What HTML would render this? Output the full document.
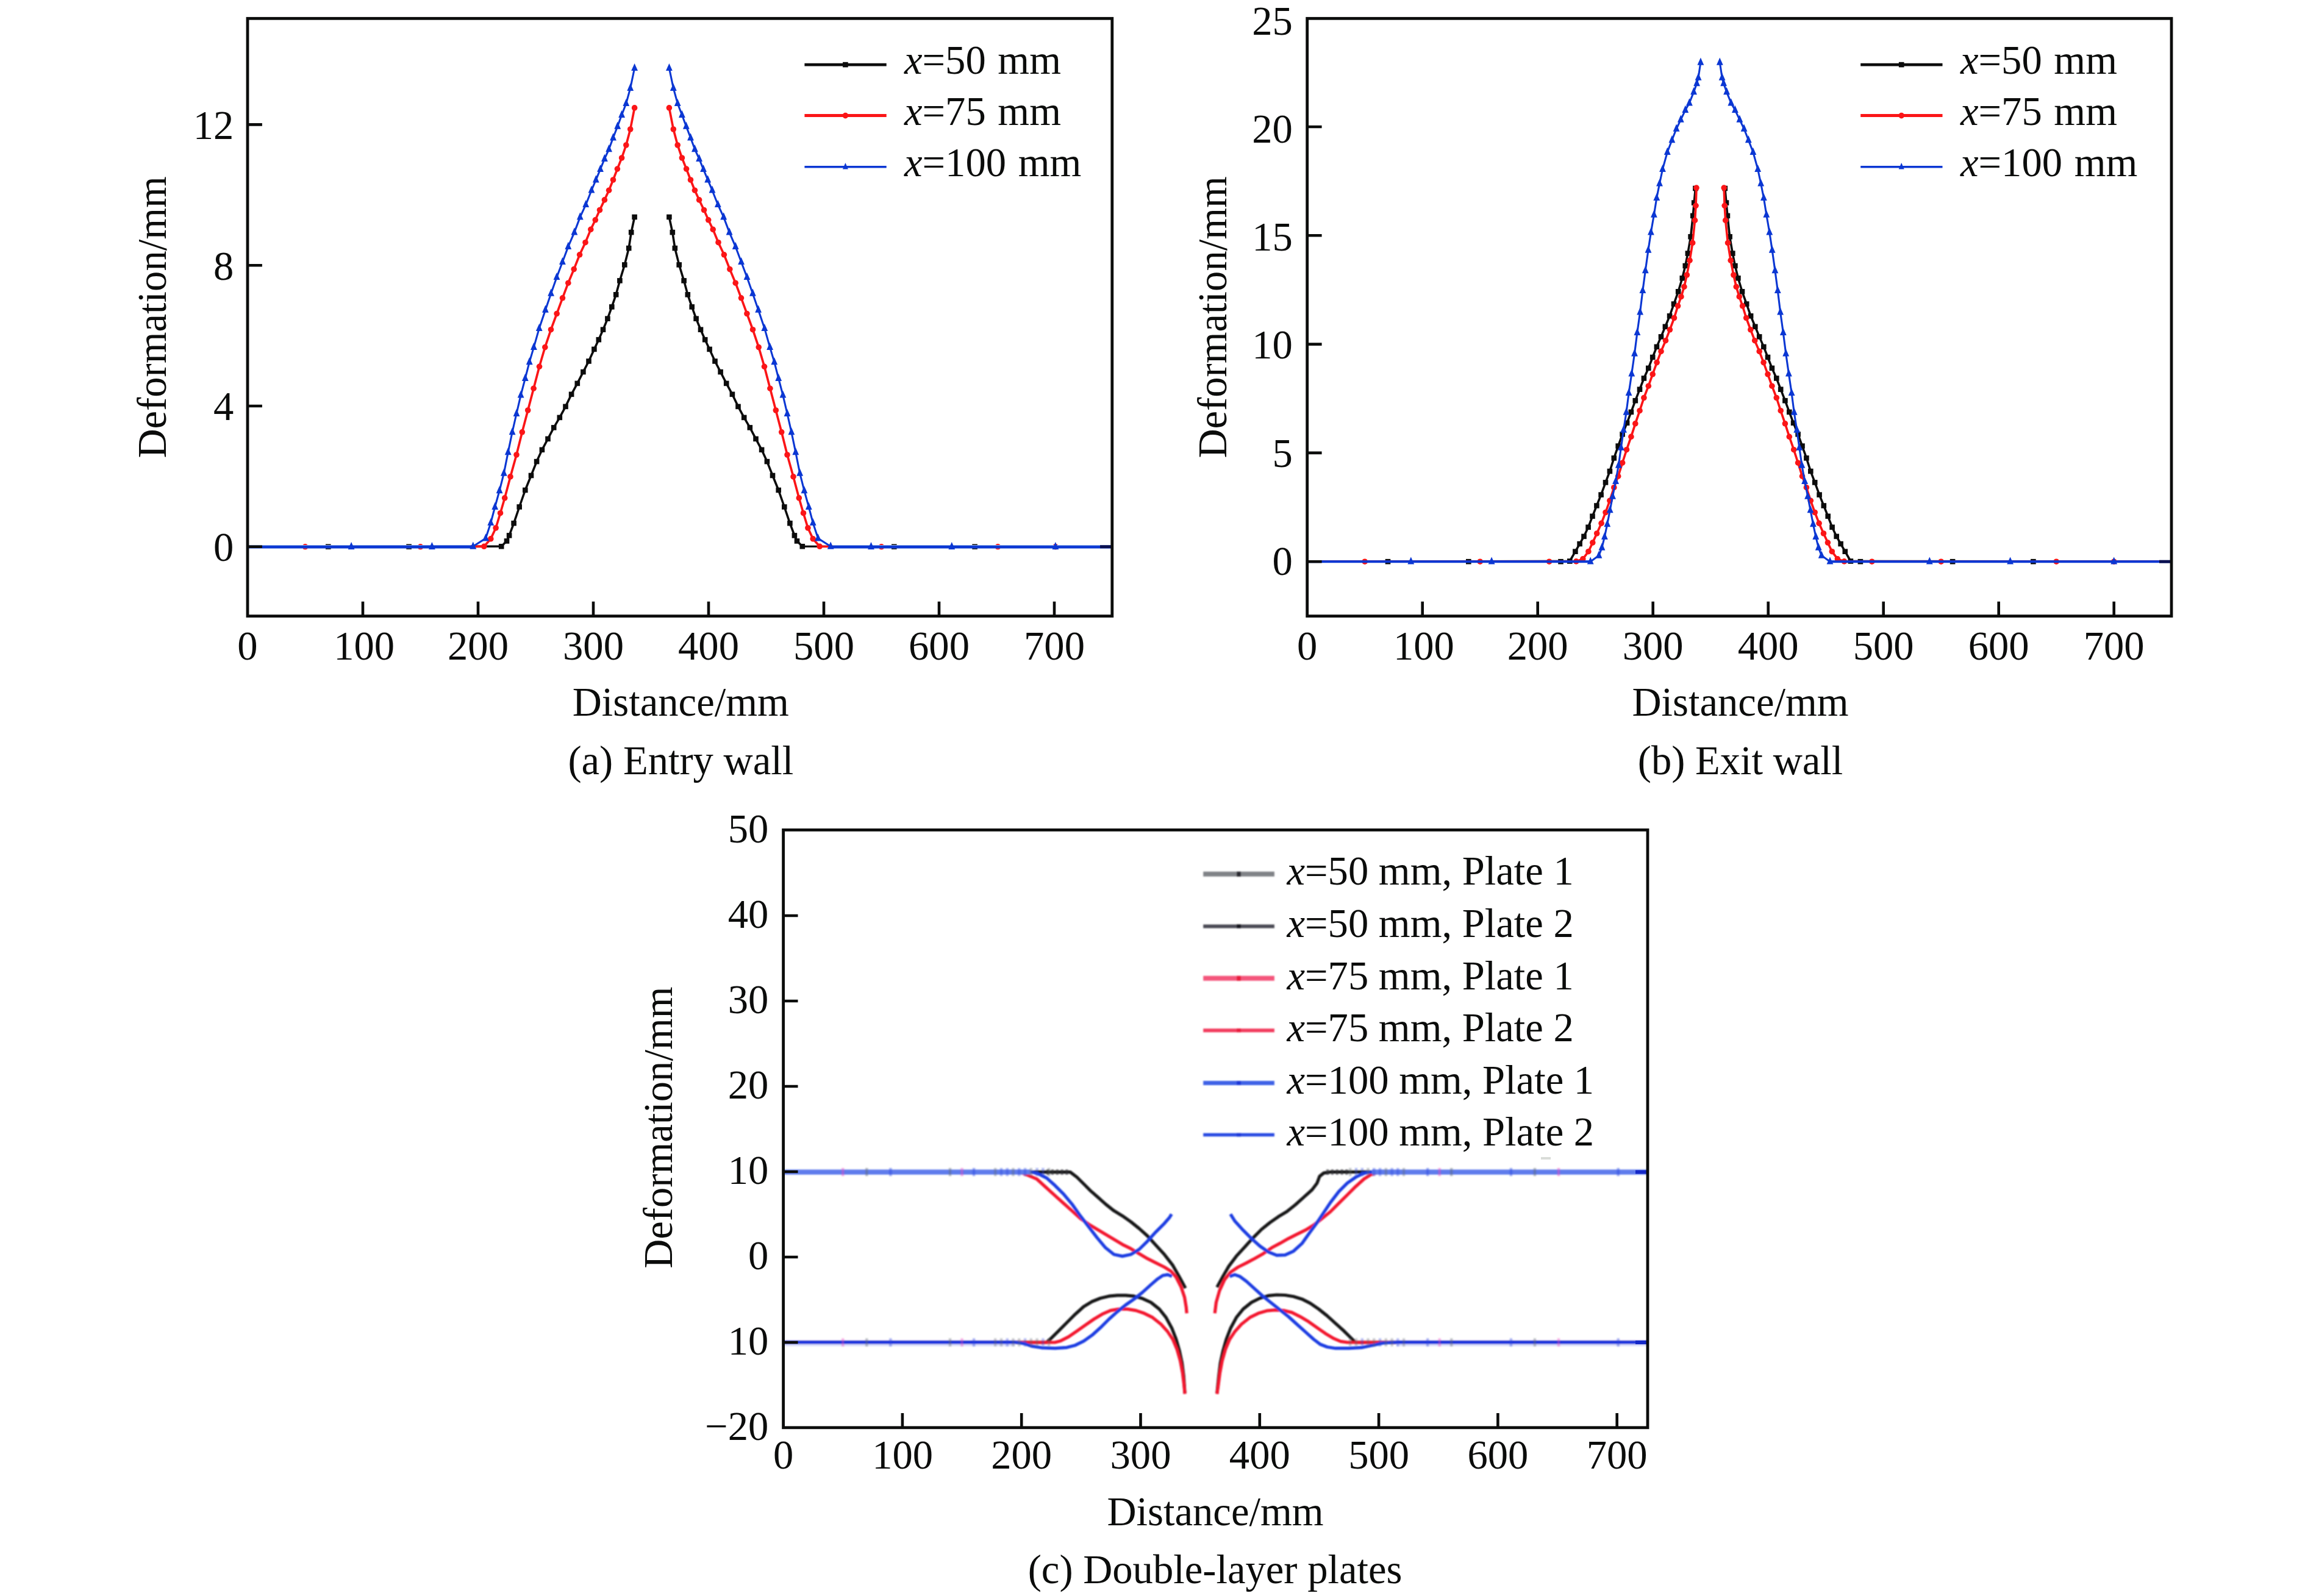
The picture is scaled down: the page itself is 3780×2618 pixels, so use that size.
<!DOCTYPE html>
<html><head><meta charset="utf-8"><title>Deformation curves</title>
<style>html,body{margin:0;padding:0;background:#fff}svg{display:block}text{font-family:"Liberation Serif",serif;font-size:66.6px;fill:#0b0c0b}</style>
</head><body>
<svg width="3780" height="2618" viewBox="0 0 3780 2618">
<rect width="3780" height="2618" fill="#fff"/>
<g id="pa">
<g stroke="#0c0c0c" stroke-width="3.6" fill="none" stroke-linejoin="round"><polyline points="406,896.8 822.2,896.3 831,887.5 835.1,878.4 842.6,858.3 851.7,831.5 861.3,804 871,780 880.1,757.1 888.9,737.8 898.5,719.9 908.2,701.4 917.8,684.9 927.5,666.9 937.1,646.8 946.8,628.9 956.4,610.1 965.5,592.5 974.4,572.9 981.8,557.2 989,540.7 996.4,522.7 1003.3,503.4 1010.2,483.3 1016.4,460.4 1024.3,434.4 1031.2,407.1 1035.2,381.1 1040.6,356"/><polyline points="1097.4,356 1102.8,381.1 1106.8,407.1 1113.7,434.4 1121.6,460.4 1127.8,483.3 1134.7,503.4 1141.6,522.7 1149,540.7 1156.2,557.2 1163.6,572.9 1172.5,592.5 1181.6,610.1 1191.2,628.9 1200.9,646.8 1210.5,666.9 1220.2,684.9 1229.8,701.4 1239.5,719.9 1249.1,737.8 1257.9,757.1 1267,780 1276.7,804 1286.3,831.5 1295.4,858.3 1302.9,878.4 1307,887.5 1315.8,896.3 1823.8,896.8"/></g>
<rect x="817.9" y="892" width="8.6" height="8.6" fill="#0c0c0c"/><rect x="826.7" y="883.2" width="8.6" height="8.6" fill="#0c0c0c"/><rect x="830.8" y="874.1" width="8.6" height="8.6" fill="#0c0c0c"/><rect x="838.3" y="854" width="8.6" height="8.6" fill="#0c0c0c"/><rect x="847.4" y="827.2" width="8.6" height="8.6" fill="#0c0c0c"/><rect x="857" y="799.7" width="8.6" height="8.6" fill="#0c0c0c"/><rect x="866.7" y="775.7" width="8.6" height="8.6" fill="#0c0c0c"/><rect x="875.8" y="752.8" width="8.6" height="8.6" fill="#0c0c0c"/><rect x="884.6" y="733.5" width="8.6" height="8.6" fill="#0c0c0c"/><rect x="894.2" y="715.6" width="8.6" height="8.6" fill="#0c0c0c"/><rect x="903.9" y="697.1" width="8.6" height="8.6" fill="#0c0c0c"/><rect x="913.5" y="680.6" width="8.6" height="8.6" fill="#0c0c0c"/><rect x="923.2" y="662.6" width="8.6" height="8.6" fill="#0c0c0c"/><rect x="932.8" y="642.5" width="8.6" height="8.6" fill="#0c0c0c"/><rect x="942.5" y="624.6" width="8.6" height="8.6" fill="#0c0c0c"/><rect x="952.1" y="605.8" width="8.6" height="8.6" fill="#0c0c0c"/><rect x="961.2" y="588.2" width="8.6" height="8.6" fill="#0c0c0c"/><rect x="970.1" y="568.6" width="8.6" height="8.6" fill="#0c0c0c"/><rect x="977.5" y="552.9" width="8.6" height="8.6" fill="#0c0c0c"/><rect x="984.7" y="536.4" width="8.6" height="8.6" fill="#0c0c0c"/><rect x="992.1" y="518.4" width="8.6" height="8.6" fill="#0c0c0c"/><rect x="999" y="499.1" width="8.6" height="8.6" fill="#0c0c0c"/><rect x="1005.9" y="479" width="8.6" height="8.6" fill="#0c0c0c"/><rect x="1012.1" y="456.1" width="8.6" height="8.6" fill="#0c0c0c"/><rect x="1020" y="430.1" width="8.6" height="8.6" fill="#0c0c0c"/><rect x="1026.9" y="402.8" width="8.6" height="8.6" fill="#0c0c0c"/><rect x="1030.9" y="376.8" width="8.6" height="8.6" fill="#0c0c0c"/><rect x="1036.3" y="351.7" width="8.6" height="8.6" fill="#0c0c0c"/><rect x="1093.1" y="351.7" width="8.6" height="8.6" fill="#0c0c0c"/><rect x="1098.5" y="376.8" width="8.6" height="8.6" fill="#0c0c0c"/><rect x="1102.5" y="402.8" width="8.6" height="8.6" fill="#0c0c0c"/><rect x="1109.4" y="430.1" width="8.6" height="8.6" fill="#0c0c0c"/><rect x="1117.3" y="456.1" width="8.6" height="8.6" fill="#0c0c0c"/><rect x="1123.5" y="479" width="8.6" height="8.6" fill="#0c0c0c"/><rect x="1130.4" y="499.1" width="8.6" height="8.6" fill="#0c0c0c"/><rect x="1137.3" y="518.4" width="8.6" height="8.6" fill="#0c0c0c"/><rect x="1144.7" y="536.4" width="8.6" height="8.6" fill="#0c0c0c"/><rect x="1151.9" y="552.9" width="8.6" height="8.6" fill="#0c0c0c"/><rect x="1159.3" y="568.6" width="8.6" height="8.6" fill="#0c0c0c"/><rect x="1168.2" y="588.2" width="8.6" height="8.6" fill="#0c0c0c"/><rect x="1177.3" y="605.8" width="8.6" height="8.6" fill="#0c0c0c"/><rect x="1186.9" y="624.6" width="8.6" height="8.6" fill="#0c0c0c"/><rect x="1196.6" y="642.5" width="8.6" height="8.6" fill="#0c0c0c"/><rect x="1206.2" y="662.6" width="8.6" height="8.6" fill="#0c0c0c"/><rect x="1215.9" y="680.6" width="8.6" height="8.6" fill="#0c0c0c"/><rect x="1225.5" y="697.1" width="8.6" height="8.6" fill="#0c0c0c"/><rect x="1235.2" y="715.6" width="8.6" height="8.6" fill="#0c0c0c"/><rect x="1244.8" y="733.5" width="8.6" height="8.6" fill="#0c0c0c"/><rect x="1253.6" y="752.8" width="8.6" height="8.6" fill="#0c0c0c"/><rect x="1262.7" y="775.7" width="8.6" height="8.6" fill="#0c0c0c"/><rect x="1272.4" y="799.7" width="8.6" height="8.6" fill="#0c0c0c"/><rect x="1282" y="827.2" width="8.6" height="8.6" fill="#0c0c0c"/><rect x="1291.1" y="854" width="8.6" height="8.6" fill="#0c0c0c"/><rect x="1298.6" y="874.1" width="8.6" height="8.6" fill="#0c0c0c"/><rect x="1302.7" y="883.2" width="8.6" height="8.6" fill="#0c0c0c"/><rect x="1311.5" y="892" width="8.6" height="8.6" fill="#0c0c0c"/><rect x="534" y="892.5" width="8.6" height="8.6" fill="#0c0c0c"/><rect x="666.3" y="892.5" width="8.6" height="8.6" fill="#0c0c0c"/><rect x="1462" y="892.5" width="8.6" height="8.6" fill="#0c0c0c"/><rect x="1594.3" y="892.5" width="8.6" height="8.6" fill="#0c0c0c"/>
<g stroke="#fb1517" stroke-width="3.7" fill="none" stroke-linejoin="round"><polyline points="406,896.8 793.8,896.3 804.8,883.9 813.1,866 820.5,841.7 827.7,816.9 837,781.9 847,746 856.3,708.8 865.7,673 875.1,637.2 884.5,601.3 893.8,569.6 903.5,540.7 913.1,514.5 922.5,488.8 931.8,464.2 941.2,441.6 950.6,417.8 960,397.7 968.8,376.4 976.3,360.8 983.5,344.5 991.4,327.9 998.6,312.2 1005.5,295 1012.4,277.1 1019.6,259 1026.8,238 1033.7,212 1040.6,176.9"/><polyline points="1097.4,176.9 1104.3,212 1111.2,238 1118.4,259 1125.6,277.1 1132.5,295 1139.4,312.2 1146.6,327.9 1154.5,344.5 1161.7,360.8 1169.2,376.4 1178,397.7 1187.4,417.8 1196.8,441.6 1206.2,464.2 1215.5,488.8 1224.9,514.5 1234.5,540.7 1244.2,569.6 1253.5,601.3 1262.9,637.2 1272.3,673 1281.7,708.8 1291,746 1301,781.9 1310.3,816.9 1317.5,841.7 1324.9,866 1333.2,883.9 1344.2,896.3 1823.8,896.8"/></g>
<circle cx="793.8" cy="896.3" r="4.8" fill="#fb1517"/><circle cx="804.8" cy="883.9" r="4.8" fill="#fb1517"/><circle cx="813.1" cy="866" r="4.8" fill="#fb1517"/><circle cx="820.5" cy="841.7" r="4.8" fill="#fb1517"/><circle cx="827.7" cy="816.9" r="4.8" fill="#fb1517"/><circle cx="837" cy="781.9" r="4.8" fill="#fb1517"/><circle cx="847" cy="746" r="4.8" fill="#fb1517"/><circle cx="856.3" cy="708.8" r="4.8" fill="#fb1517"/><circle cx="865.7" cy="673" r="4.8" fill="#fb1517"/><circle cx="875.1" cy="637.2" r="4.8" fill="#fb1517"/><circle cx="884.5" cy="601.3" r="4.8" fill="#fb1517"/><circle cx="893.8" cy="569.6" r="4.8" fill="#fb1517"/><circle cx="903.5" cy="540.7" r="4.8" fill="#fb1517"/><circle cx="913.1" cy="514.5" r="4.8" fill="#fb1517"/><circle cx="922.5" cy="488.8" r="4.8" fill="#fb1517"/><circle cx="931.8" cy="464.2" r="4.8" fill="#fb1517"/><circle cx="941.2" cy="441.6" r="4.8" fill="#fb1517"/><circle cx="950.6" cy="417.8" r="4.8" fill="#fb1517"/><circle cx="960" cy="397.7" r="4.8" fill="#fb1517"/><circle cx="968.8" cy="376.4" r="4.8" fill="#fb1517"/><circle cx="976.3" cy="360.8" r="4.8" fill="#fb1517"/><circle cx="983.5" cy="344.5" r="4.8" fill="#fb1517"/><circle cx="991.4" cy="327.9" r="4.8" fill="#fb1517"/><circle cx="998.6" cy="312.2" r="4.8" fill="#fb1517"/><circle cx="1005.5" cy="295" r="4.8" fill="#fb1517"/><circle cx="1012.4" cy="277.1" r="4.8" fill="#fb1517"/><circle cx="1019.6" cy="259" r="4.8" fill="#fb1517"/><circle cx="1026.8" cy="238" r="4.8" fill="#fb1517"/><circle cx="1033.7" cy="212" r="4.8" fill="#fb1517"/><circle cx="1040.6" cy="176.9" r="4.8" fill="#fb1517"/><circle cx="1097.4" cy="176.9" r="4.8" fill="#fb1517"/><circle cx="1104.3" cy="212" r="4.8" fill="#fb1517"/><circle cx="1111.2" cy="238" r="4.8" fill="#fb1517"/><circle cx="1118.4" cy="259" r="4.8" fill="#fb1517"/><circle cx="1125.6" cy="277.1" r="4.8" fill="#fb1517"/><circle cx="1132.5" cy="295" r="4.8" fill="#fb1517"/><circle cx="1139.4" cy="312.2" r="4.8" fill="#fb1517"/><circle cx="1146.6" cy="327.9" r="4.8" fill="#fb1517"/><circle cx="1154.5" cy="344.5" r="4.8" fill="#fb1517"/><circle cx="1161.7" cy="360.8" r="4.8" fill="#fb1517"/><circle cx="1169.2" cy="376.4" r="4.8" fill="#fb1517"/><circle cx="1178" cy="397.7" r="4.8" fill="#fb1517"/><circle cx="1187.4" cy="417.8" r="4.8" fill="#fb1517"/><circle cx="1196.8" cy="441.6" r="4.8" fill="#fb1517"/><circle cx="1206.2" cy="464.2" r="4.8" fill="#fb1517"/><circle cx="1215.5" cy="488.8" r="4.8" fill="#fb1517"/><circle cx="1224.9" cy="514.5" r="4.8" fill="#fb1517"/><circle cx="1234.5" cy="540.7" r="4.8" fill="#fb1517"/><circle cx="1244.2" cy="569.6" r="4.8" fill="#fb1517"/><circle cx="1253.5" cy="601.3" r="4.8" fill="#fb1517"/><circle cx="1262.9" cy="637.2" r="4.8" fill="#fb1517"/><circle cx="1272.3" cy="673" r="4.8" fill="#fb1517"/><circle cx="1281.7" cy="708.8" r="4.8" fill="#fb1517"/><circle cx="1291" cy="746" r="4.8" fill="#fb1517"/><circle cx="1301" cy="781.9" r="4.8" fill="#fb1517"/><circle cx="1310.3" cy="816.9" r="4.8" fill="#fb1517"/><circle cx="1317.5" cy="841.7" r="4.8" fill="#fb1517"/><circle cx="1324.9" cy="866" r="4.8" fill="#fb1517"/><circle cx="1333.2" cy="883.9" r="4.8" fill="#fb1517"/><circle cx="1344.2" cy="896.3" r="4.8" fill="#fb1517"/><circle cx="500.5" cy="896.8" r="4.8" fill="#fb1517"/><circle cx="689.5" cy="896.8" r="4.8" fill="#fb1517"/><circle cx="1445.5" cy="896.8" r="4.8" fill="#fb1517"/><circle cx="1636.4" cy="896.8" r="4.8" fill="#fb1517"/><circle cx="1730.9" cy="896.8" r="4.8" fill="#fb1517"/>
<path d="M406 896.7H771.8 M1366.2 896.7H1823.8" stroke="#8caeea" stroke-width="5.6" fill="none"/>
<path d="M406 897.6H775.8 M1362.2 897.6H1823.8" stroke="#0b37d3" stroke-width="3.9" fill="none"/>
<g stroke="#0b37d3" stroke-width="3.1" fill="none" stroke-linejoin="round"><polyline points="406,896.8 775.8,896.3 796.5,883.1 804.8,857.7 811.7,831.5 819.1,804.8 826.3,776.4 833.2,741.9 840.1,708.8 847,678.5 854.1,648.2 861.3,620.6 868.2,593.9 875.4,569.6 884.2,538.7 894.4,508.4 903.6,481.4 913,454.7 922.4,429.7 931.8,404.6 941.9,381.1 951.3,356.1 960.7,335.7 970,312.2 977.3,295 984.5,277.7 991.4,260.5 998.6,244.8 1005.5,226 1012.7,207.3 1019.6,188.5 1026.8,169.7 1033.7,144.6 1040.6,111.7"/><polyline points="1097.4,111.7 1104.3,144.6 1111.2,169.7 1118.4,188.5 1125.3,207.3 1132.5,226 1139.4,244.8 1146.6,260.5 1153.5,277.7 1160.7,295 1168,312.2 1177.3,335.7 1186.7,356.1 1196.1,381.1 1206.2,404.6 1215.6,429.7 1225,454.7 1234.4,481.4 1243.6,508.4 1253.8,538.7 1262.6,569.6 1269.8,593.9 1276.7,620.6 1283.9,648.2 1291,678.5 1297.9,708.8 1304.8,741.9 1311.7,776.4 1318.9,804.8 1326.3,831.5 1333.2,857.7 1341.5,883.1 1362.2,896.3 1823.8,896.8"/></g>
<path d="M770.4 900.7L781.2 900.7L775.8 888.5Z" fill="#0b37d3"/><path d="M791.1 887.5L801.9 887.5L796.5 875.3Z" fill="#0b37d3"/><path d="M799.4 862.1L810.2 862.1L804.8 849.9Z" fill="#0b37d3"/><path d="M806.3 835.9L817.1 835.9L811.7 823.7Z" fill="#0b37d3"/><path d="M813.7 809.2L824.5 809.2L819.1 797Z" fill="#0b37d3"/><path d="M820.9 780.8L831.7 780.8L826.3 768.6Z" fill="#0b37d3"/><path d="M827.8 746.3L838.6 746.3L833.2 734.1Z" fill="#0b37d3"/><path d="M834.7 713.2L845.5 713.2L840.1 701Z" fill="#0b37d3"/><path d="M841.6 682.9L852.4 682.9L847 670.7Z" fill="#0b37d3"/><path d="M848.7 652.6L859.5 652.6L854.1 640.4Z" fill="#0b37d3"/><path d="M855.9 625L866.7 625L861.3 612.8Z" fill="#0b37d3"/><path d="M862.8 598.3L873.6 598.3L868.2 586.1Z" fill="#0b37d3"/><path d="M870 574L880.8 574L875.4 561.8Z" fill="#0b37d3"/><path d="M878.8 543.1L889.6 543.1L884.2 530.9Z" fill="#0b37d3"/><path d="M889 512.8L899.8 512.8L894.4 500.6Z" fill="#0b37d3"/><path d="M898.2 485.8L909 485.8L903.6 473.6Z" fill="#0b37d3"/><path d="M907.6 459.1L918.4 459.1L913 446.9Z" fill="#0b37d3"/><path d="M917 434.1L927.8 434.1L922.4 421.9Z" fill="#0b37d3"/><path d="M926.4 409L937.2 409L931.8 396.8Z" fill="#0b37d3"/><path d="M936.5 385.5L947.3 385.5L941.9 373.3Z" fill="#0b37d3"/><path d="M945.9 360.5L956.7 360.5L951.3 348.3Z" fill="#0b37d3"/><path d="M955.3 340.1L966.1 340.1L960.7 327.9Z" fill="#0b37d3"/><path d="M964.6 316.6L975.4 316.6L970 304.4Z" fill="#0b37d3"/><path d="M971.9 299.4L982.7 299.4L977.3 287.2Z" fill="#0b37d3"/><path d="M979.1 282.1L989.9 282.1L984.5 269.9Z" fill="#0b37d3"/><path d="M986 264.9L996.8 264.9L991.4 252.7Z" fill="#0b37d3"/><path d="M993.2 249.2L1004 249.2L998.6 237Z" fill="#0b37d3"/><path d="M1000.1 230.4L1010.9 230.4L1005.5 218.2Z" fill="#0b37d3"/><path d="M1007.3 211.7L1018.1 211.7L1012.7 199.5Z" fill="#0b37d3"/><path d="M1014.2 192.9L1025 192.9L1019.6 180.7Z" fill="#0b37d3"/><path d="M1021.4 174.1L1032.2 174.1L1026.8 161.9Z" fill="#0b37d3"/><path d="M1028.3 149L1039.1 149L1033.7 136.8Z" fill="#0b37d3"/><path d="M1035.2 116.1L1046 116.1L1040.6 103.9Z" fill="#0b37d3"/><path d="M1092 116.1L1102.8 116.1L1097.4 103.9Z" fill="#0b37d3"/><path d="M1098.9 149L1109.7 149L1104.3 136.8Z" fill="#0b37d3"/><path d="M1105.8 174.1L1116.6 174.1L1111.2 161.9Z" fill="#0b37d3"/><path d="M1113 192.9L1123.8 192.9L1118.4 180.7Z" fill="#0b37d3"/><path d="M1119.9 211.7L1130.7 211.7L1125.3 199.5Z" fill="#0b37d3"/><path d="M1127.1 230.4L1137.9 230.4L1132.5 218.2Z" fill="#0b37d3"/><path d="M1134 249.2L1144.8 249.2L1139.4 237Z" fill="#0b37d3"/><path d="M1141.2 264.9L1152 264.9L1146.6 252.7Z" fill="#0b37d3"/><path d="M1148.1 282.1L1158.9 282.1L1153.5 269.9Z" fill="#0b37d3"/><path d="M1155.3 299.4L1166.1 299.4L1160.7 287.2Z" fill="#0b37d3"/><path d="M1162.6 316.6L1173.4 316.6L1168 304.4Z" fill="#0b37d3"/><path d="M1171.9 340.1L1182.7 340.1L1177.3 327.9Z" fill="#0b37d3"/><path d="M1181.3 360.5L1192.1 360.5L1186.7 348.3Z" fill="#0b37d3"/><path d="M1190.7 385.5L1201.5 385.5L1196.1 373.3Z" fill="#0b37d3"/><path d="M1200.8 409L1211.6 409L1206.2 396.8Z" fill="#0b37d3"/><path d="M1210.2 434.1L1221 434.1L1215.6 421.9Z" fill="#0b37d3"/><path d="M1219.6 459.1L1230.4 459.1L1225 446.9Z" fill="#0b37d3"/><path d="M1229 485.8L1239.8 485.8L1234.4 473.6Z" fill="#0b37d3"/><path d="M1238.2 512.8L1249 512.8L1243.6 500.6Z" fill="#0b37d3"/><path d="M1248.4 543.1L1259.2 543.1L1253.8 530.9Z" fill="#0b37d3"/><path d="M1257.2 574L1268 574L1262.6 561.8Z" fill="#0b37d3"/><path d="M1264.4 598.3L1275.2 598.3L1269.8 586.1Z" fill="#0b37d3"/><path d="M1271.3 625L1282.1 625L1276.7 612.8Z" fill="#0b37d3"/><path d="M1278.5 652.6L1289.3 652.6L1283.9 640.4Z" fill="#0b37d3"/><path d="M1285.6 682.9L1296.4 682.9L1291 670.7Z" fill="#0b37d3"/><path d="M1292.5 713.2L1303.3 713.2L1297.9 701Z" fill="#0b37d3"/><path d="M1299.4 746.3L1310.2 746.3L1304.8 734.1Z" fill="#0b37d3"/><path d="M1306.3 780.8L1317.1 780.8L1311.7 768.6Z" fill="#0b37d3"/><path d="M1313.5 809.2L1324.3 809.2L1318.9 797Z" fill="#0b37d3"/><path d="M1320.9 835.9L1331.7 835.9L1326.3 823.7Z" fill="#0b37d3"/><path d="M1327.8 862.1L1338.6 862.1L1333.2 849.9Z" fill="#0b37d3"/><path d="M1336.1 887.5L1346.9 887.5L1341.5 875.3Z" fill="#0b37d3"/><path d="M1356.8 900.7L1367.6 900.7L1362.2 888.5Z" fill="#0b37d3"/><path d="M570.7 901.2L581.5 901.2L576.1 889Z" fill="#0b37d3"/><path d="M703 901.2L713.8 901.2L708.4 889Z" fill="#0b37d3"/><path d="M1423.1 901.2L1433.9 901.2L1428.5 889Z" fill="#0b37d3"/><path d="M1555.4 901.2L1566.2 901.2L1560.8 889Z" fill="#0b37d3"/><path d="M1725.5 901.2L1736.3 901.2L1730.9 889Z" fill="#0b37d3"/>
<path d="M1804 896.8H1822" stroke="#0a1050" stroke-width="5"/>
<rect x="406" y="30.3" width="1417.8" height="980.3" fill="none" stroke="#0b0c0b" stroke-width="4.8"/>
<path d="M595 1010.6V986.7M784 1010.6V986.7M973 1010.6V986.7M1162 1010.6V986.7M1351 1010.6V986.7M1540 1010.6V986.7M1729 1010.6V986.7M406 896.8H429.9M406 666H429.9M406 435.2H429.9M406 204.4H429.9" stroke="#0b0c0b" stroke-width="4.6" fill="none"/>
<text x="406" y="1082" text-anchor="middle">0</text>
<text x="597.2" y="1082" text-anchor="middle">100</text>
<text x="784" y="1082" text-anchor="middle">200</text>
<text x="973" y="1082" text-anchor="middle">300</text>
<text x="1162" y="1082" text-anchor="middle">400</text>
<text x="1351" y="1082" text-anchor="middle">500</text>
<text x="1540" y="1082" text-anchor="middle">600</text>
<text x="1729" y="1082" text-anchor="middle">700</text>
<text x="383.3" y="920.1" text-anchor="end">0</text>
<text x="383.3" y="689.3" text-anchor="end">4</text>
<text x="383.3" y="458.5" text-anchor="end">8</text>
<text x="383.3" y="227.7" text-anchor="end">12</text>
<line x1="1319.4" y1="106.1" x2="1453.7" y2="106.1" stroke="#0c0c0c" stroke-width="4.6"/>
<rect x="1382.1" y="101.8" width="8.6" height="8.6" fill="#0c0c0c"/>
<text x="1483" y="120.7" text-anchor="start" word-spacing="3"><tspan font-style="italic">x</tspan>=50 mm</text>
<line x1="1319.4" y1="189.6" x2="1453.7" y2="189.6" stroke="#fb1517" stroke-width="5.0"/>
<circle cx="1386.4" cy="189.6" r="4.8" fill="#fb1517"/>
<text x="1483" y="204.8" text-anchor="start" word-spacing="3"><tspan font-style="italic">x</tspan>=75 mm</text>
<line x1="1319.4" y1="273.8" x2="1453.7" y2="273.8" stroke="#0b37d3" stroke-width="3.6"/>
<path d="M1381.9 277.6L1390.9 277.6L1386.4 267Z" fill="#0b37d3"/>
<text x="1483" y="289.1" text-anchor="start" word-spacing="3"><tspan font-style="italic">x</tspan>=100 mm</text>
<text x="1116.3" y="1173.9" text-anchor="middle">Distance/mm</text>
<text x="1116.3" y="1269.9" text-anchor="middle">(a) Entry wall</text>
<text transform="translate(271.7 520.4) rotate(-90)" text-anchor="middle">Deformation/mm</text>
</g>
<g id="pb">
<g stroke="#0c0c0c" stroke-width="3.6" fill="none" stroke-linejoin="round"><polyline points="2143.7,921.2 2574.3,920.5 2583.4,904.7 2590.6,892.1 2597.5,879.9 2604.6,864.8 2611.5,846.8 2618.4,829.5 2625.6,811.6 2633,791.4 2639.9,773 2646.8,751.4 2653.7,731.6 2660.6,712.3 2668.1,693.8 2674.9,675.9 2681.8,657.2 2689,638.7 2695.9,620.5 2703.3,603.9 2710.2,586 2716.9,568.9 2724,552.4 2730.9,535.8 2738.1,518.3 2745,498.6 2752.2,478.3 2758.8,456.3 2763.8,436 2767.9,415.6 2772.6,388.3 2776.3,353.9 2778.2,332.6 2780.4,309"/><polyline points="2828.8,309 2831,332.6 2832.9,353.9 2836.6,388.3 2841.3,415.6 2845.4,436 2850.4,456.3 2857,478.3 2864.2,498.6 2871.1,518.3 2878.3,535.8 2885.2,552.4 2892.3,568.9 2899,586 2905.9,603.9 2913.3,620.5 2920.2,638.7 2927.4,657.2 2934.3,675.9 2941.1,693.8 2948.6,712.3 2955.5,731.6 2962.4,751.4 2969.3,773 2976.2,791.4 2983.6,811.6 2990.8,829.5 2997.7,846.8 3004.6,864.8 3011.7,879.9 3018.6,892.1 3025.8,904.7 3034.9,920.5 3561,921.2"/></g>
<rect x="2570" y="916.2" width="8.6" height="8.6" fill="#0c0c0c"/><rect x="2579.1" y="900.4" width="8.6" height="8.6" fill="#0c0c0c"/><rect x="2586.3" y="887.8" width="8.6" height="8.6" fill="#0c0c0c"/><rect x="2593.2" y="875.6" width="8.6" height="8.6" fill="#0c0c0c"/><rect x="2600.3" y="860.5" width="8.6" height="8.6" fill="#0c0c0c"/><rect x="2607.2" y="842.5" width="8.6" height="8.6" fill="#0c0c0c"/><rect x="2614.1" y="825.2" width="8.6" height="8.6" fill="#0c0c0c"/><rect x="2621.3" y="807.3" width="8.6" height="8.6" fill="#0c0c0c"/><rect x="2628.7" y="787.1" width="8.6" height="8.6" fill="#0c0c0c"/><rect x="2635.6" y="768.7" width="8.6" height="8.6" fill="#0c0c0c"/><rect x="2642.5" y="747.1" width="8.6" height="8.6" fill="#0c0c0c"/><rect x="2649.4" y="727.3" width="8.6" height="8.6" fill="#0c0c0c"/><rect x="2656.3" y="708" width="8.6" height="8.6" fill="#0c0c0c"/><rect x="2663.8" y="689.5" width="8.6" height="8.6" fill="#0c0c0c"/><rect x="2670.6" y="671.6" width="8.6" height="8.6" fill="#0c0c0c"/><rect x="2677.5" y="652.9" width="8.6" height="8.6" fill="#0c0c0c"/><rect x="2684.7" y="634.4" width="8.6" height="8.6" fill="#0c0c0c"/><rect x="2691.6" y="616.2" width="8.6" height="8.6" fill="#0c0c0c"/><rect x="2699" y="599.6" width="8.6" height="8.6" fill="#0c0c0c"/><rect x="2705.9" y="581.7" width="8.6" height="8.6" fill="#0c0c0c"/><rect x="2712.6" y="564.6" width="8.6" height="8.6" fill="#0c0c0c"/><rect x="2719.7" y="548.1" width="8.6" height="8.6" fill="#0c0c0c"/><rect x="2726.6" y="531.5" width="8.6" height="8.6" fill="#0c0c0c"/><rect x="2733.8" y="514" width="8.6" height="8.6" fill="#0c0c0c"/><rect x="2740.7" y="494.3" width="8.6" height="8.6" fill="#0c0c0c"/><rect x="2747.9" y="474" width="8.6" height="8.6" fill="#0c0c0c"/><rect x="2754.5" y="452" width="8.6" height="8.6" fill="#0c0c0c"/><rect x="2759.5" y="431.7" width="8.6" height="8.6" fill="#0c0c0c"/><rect x="2763.6" y="411.3" width="8.6" height="8.6" fill="#0c0c0c"/><rect x="2768.3" y="384" width="8.6" height="8.6" fill="#0c0c0c"/><rect x="2772" y="349.6" width="8.6" height="8.6" fill="#0c0c0c"/><rect x="2773.9" y="328.3" width="8.6" height="8.6" fill="#0c0c0c"/><rect x="2776.1" y="304.7" width="8.6" height="8.6" fill="#0c0c0c"/><rect x="2824.5" y="304.7" width="8.6" height="8.6" fill="#0c0c0c"/><rect x="2826.7" y="328.3" width="8.6" height="8.6" fill="#0c0c0c"/><rect x="2828.6" y="349.6" width="8.6" height="8.6" fill="#0c0c0c"/><rect x="2832.3" y="384" width="8.6" height="8.6" fill="#0c0c0c"/><rect x="2837" y="411.3" width="8.6" height="8.6" fill="#0c0c0c"/><rect x="2841.1" y="431.7" width="8.6" height="8.6" fill="#0c0c0c"/><rect x="2846.1" y="452" width="8.6" height="8.6" fill="#0c0c0c"/><rect x="2852.7" y="474" width="8.6" height="8.6" fill="#0c0c0c"/><rect x="2859.9" y="494.3" width="8.6" height="8.6" fill="#0c0c0c"/><rect x="2866.8" y="514" width="8.6" height="8.6" fill="#0c0c0c"/><rect x="2874" y="531.5" width="8.6" height="8.6" fill="#0c0c0c"/><rect x="2880.9" y="548.1" width="8.6" height="8.6" fill="#0c0c0c"/><rect x="2888" y="564.6" width="8.6" height="8.6" fill="#0c0c0c"/><rect x="2894.7" y="581.7" width="8.6" height="8.6" fill="#0c0c0c"/><rect x="2901.6" y="599.6" width="8.6" height="8.6" fill="#0c0c0c"/><rect x="2909" y="616.2" width="8.6" height="8.6" fill="#0c0c0c"/><rect x="2915.9" y="634.4" width="8.6" height="8.6" fill="#0c0c0c"/><rect x="2923.1" y="652.9" width="8.6" height="8.6" fill="#0c0c0c"/><rect x="2930" y="671.6" width="8.6" height="8.6" fill="#0c0c0c"/><rect x="2936.8" y="689.5" width="8.6" height="8.6" fill="#0c0c0c"/><rect x="2944.3" y="708" width="8.6" height="8.6" fill="#0c0c0c"/><rect x="2951.2" y="727.3" width="8.6" height="8.6" fill="#0c0c0c"/><rect x="2958.1" y="747.1" width="8.6" height="8.6" fill="#0c0c0c"/><rect x="2965" y="768.7" width="8.6" height="8.6" fill="#0c0c0c"/><rect x="2971.9" y="787.1" width="8.6" height="8.6" fill="#0c0c0c"/><rect x="2979.3" y="807.3" width="8.6" height="8.6" fill="#0c0c0c"/><rect x="2986.5" y="825.2" width="8.6" height="8.6" fill="#0c0c0c"/><rect x="2993.4" y="842.5" width="8.6" height="8.6" fill="#0c0c0c"/><rect x="3000.3" y="860.5" width="8.6" height="8.6" fill="#0c0c0c"/><rect x="3007.4" y="875.6" width="8.6" height="8.6" fill="#0c0c0c"/><rect x="3014.3" y="887.8" width="8.6" height="8.6" fill="#0c0c0c"/><rect x="3021.5" y="900.4" width="8.6" height="8.6" fill="#0c0c0c"/><rect x="3030.6" y="916.2" width="8.6" height="8.6" fill="#0c0c0c"/><rect x="2271.7" y="916.9" width="8.6" height="8.6" fill="#0c0c0c"/><rect x="2404" y="916.9" width="8.6" height="8.6" fill="#0c0c0c"/><rect x="2555.2" y="916.9" width="8.6" height="8.6" fill="#0c0c0c"/><rect x="3046.6" y="916.9" width="8.6" height="8.6" fill="#0c0c0c"/><rect x="3197.8" y="916.9" width="8.6" height="8.6" fill="#0c0c0c"/><rect x="3330.1" y="916.9" width="8.6" height="8.6" fill="#0c0c0c"/>
<g stroke="#fb1517" stroke-width="3.7" fill="none" stroke-linejoin="round"><polyline points="2143.7,921.2 2584.8,920.9 2595.8,916.9 2604.9,904.7 2611.8,890.1 2618.7,875 2626.1,858.4 2633,840.5 2639.9,821.2 2646.8,799.7 2653.7,781.2 2660.6,759.2 2667.5,737.7 2674.9,716.4 2681.8,694.9 2689,673.7 2695.9,652.5 2703.3,633.2 2710.2,613.9 2717.1,594.6 2724,576.4 2731.5,558.7 2738.4,540.8 2745.5,521.5 2751.6,501.8 2756.9,486.7 2761.9,470.4 2766.3,451 2771,427.2 2775.7,398.4 2779.5,361.4 2781,337.3 2782,308.1"/><polyline points="2827.2,308.1 2828.2,337.3 2829.7,361.4 2833.5,398.4 2838.2,427.2 2842.9,451 2847.3,470.4 2852.3,486.7 2857.6,501.8 2863.7,521.5 2870.8,540.8 2877.7,558.7 2885.2,576.4 2892.1,594.6 2899,613.9 2905.9,633.2 2913.3,652.5 2920.2,673.7 2927.4,694.9 2934.3,716.4 2941.7,737.7 2948.6,759.2 2955.5,781.2 2962.4,799.7 2969.3,821.2 2976.2,840.5 2983.1,858.4 2990.5,875 2997.4,890.1 3004.3,904.7 3013.4,916.9 3024.4,920.9 3561,921.2"/></g>
<circle cx="2584.8" cy="920.9" r="4.8" fill="#fb1517"/><circle cx="2595.8" cy="916.9" r="4.8" fill="#fb1517"/><circle cx="2604.9" cy="904.7" r="4.8" fill="#fb1517"/><circle cx="2611.8" cy="890.1" r="4.8" fill="#fb1517"/><circle cx="2618.7" cy="875" r="4.8" fill="#fb1517"/><circle cx="2626.1" cy="858.4" r="4.8" fill="#fb1517"/><circle cx="2633" cy="840.5" r="4.8" fill="#fb1517"/><circle cx="2639.9" cy="821.2" r="4.8" fill="#fb1517"/><circle cx="2646.8" cy="799.7" r="4.8" fill="#fb1517"/><circle cx="2653.7" cy="781.2" r="4.8" fill="#fb1517"/><circle cx="2660.6" cy="759.2" r="4.8" fill="#fb1517"/><circle cx="2667.5" cy="737.7" r="4.8" fill="#fb1517"/><circle cx="2674.9" cy="716.4" r="4.8" fill="#fb1517"/><circle cx="2681.8" cy="694.9" r="4.8" fill="#fb1517"/><circle cx="2689" cy="673.7" r="4.8" fill="#fb1517"/><circle cx="2695.9" cy="652.5" r="4.8" fill="#fb1517"/><circle cx="2703.3" cy="633.2" r="4.8" fill="#fb1517"/><circle cx="2710.2" cy="613.9" r="4.8" fill="#fb1517"/><circle cx="2717.1" cy="594.6" r="4.8" fill="#fb1517"/><circle cx="2724" cy="576.4" r="4.8" fill="#fb1517"/><circle cx="2731.5" cy="558.7" r="4.8" fill="#fb1517"/><circle cx="2738.4" cy="540.8" r="4.8" fill="#fb1517"/><circle cx="2745.5" cy="521.5" r="4.8" fill="#fb1517"/><circle cx="2751.6" cy="501.8" r="4.8" fill="#fb1517"/><circle cx="2756.9" cy="486.7" r="4.8" fill="#fb1517"/><circle cx="2761.9" cy="470.4" r="4.8" fill="#fb1517"/><circle cx="2766.3" cy="451" r="4.8" fill="#fb1517"/><circle cx="2771" cy="427.2" r="4.8" fill="#fb1517"/><circle cx="2775.7" cy="398.4" r="4.8" fill="#fb1517"/><circle cx="2779.5" cy="361.4" r="4.8" fill="#fb1517"/><circle cx="2781" cy="337.3" r="4.8" fill="#fb1517"/><circle cx="2782" cy="308.1" r="4.8" fill="#fb1517"/><circle cx="2827.2" cy="308.1" r="4.8" fill="#fb1517"/><circle cx="2828.2" cy="337.3" r="4.8" fill="#fb1517"/><circle cx="2829.7" cy="361.4" r="4.8" fill="#fb1517"/><circle cx="2833.5" cy="398.4" r="4.8" fill="#fb1517"/><circle cx="2838.2" cy="427.2" r="4.8" fill="#fb1517"/><circle cx="2842.9" cy="451" r="4.8" fill="#fb1517"/><circle cx="2847.3" cy="470.4" r="4.8" fill="#fb1517"/><circle cx="2852.3" cy="486.7" r="4.8" fill="#fb1517"/><circle cx="2857.6" cy="501.8" r="4.8" fill="#fb1517"/><circle cx="2863.7" cy="521.5" r="4.8" fill="#fb1517"/><circle cx="2870.8" cy="540.8" r="4.8" fill="#fb1517"/><circle cx="2877.7" cy="558.7" r="4.8" fill="#fb1517"/><circle cx="2885.2" cy="576.4" r="4.8" fill="#fb1517"/><circle cx="2892.1" cy="594.6" r="4.8" fill="#fb1517"/><circle cx="2899" cy="613.9" r="4.8" fill="#fb1517"/><circle cx="2905.9" cy="633.2" r="4.8" fill="#fb1517"/><circle cx="2913.3" cy="652.5" r="4.8" fill="#fb1517"/><circle cx="2920.2" cy="673.7" r="4.8" fill="#fb1517"/><circle cx="2927.4" cy="694.9" r="4.8" fill="#fb1517"/><circle cx="2934.3" cy="716.4" r="4.8" fill="#fb1517"/><circle cx="2941.7" cy="737.7" r="4.8" fill="#fb1517"/><circle cx="2948.6" cy="759.2" r="4.8" fill="#fb1517"/><circle cx="2955.5" cy="781.2" r="4.8" fill="#fb1517"/><circle cx="2962.4" cy="799.7" r="4.8" fill="#fb1517"/><circle cx="2969.3" cy="821.2" r="4.8" fill="#fb1517"/><circle cx="2976.2" cy="840.5" r="4.8" fill="#fb1517"/><circle cx="2983.1" cy="858.4" r="4.8" fill="#fb1517"/><circle cx="2990.5" cy="875" r="4.8" fill="#fb1517"/><circle cx="2997.4" cy="890.1" r="4.8" fill="#fb1517"/><circle cx="3004.3" cy="904.7" r="4.8" fill="#fb1517"/><circle cx="3013.4" cy="916.9" r="4.8" fill="#fb1517"/><circle cx="3024.4" cy="920.9" r="4.8" fill="#fb1517"/><circle cx="2238.2" cy="921.2" r="4.8" fill="#fb1517"/><circle cx="2427.2" cy="921.2" r="4.8" fill="#fb1517"/><circle cx="2540.6" cy="921.2" r="4.8" fill="#fb1517"/><circle cx="3069.8" cy="921.2" r="4.8" fill="#fb1517"/><circle cx="3183.2" cy="921.2" r="4.8" fill="#fb1517"/><circle cx="3372.2" cy="921.2" r="4.8" fill="#fb1517"/><circle cx="3466.7" cy="921.2" r="4.8" fill="#fb1517"/>
<path d="M2143.7 921.2H2608.2 M3001 921.2H3561" stroke="#0b37d3" stroke-width="3.9" fill="none"/>
<g stroke="#0b37d3" stroke-width="3.1" fill="none" stroke-linejoin="round"><polyline points="2143.7,921.2 2608.2,921.2 2622,911.3 2627,898.4 2631.4,880.5 2635.8,859.8 2640.2,836.9 2644.6,814.3 2649.6,789.5 2654.3,763.3 2658.4,734.3 2662.5,705.4 2667,676.4 2671.1,644.7 2675.8,613 2680.5,580 2684.9,545.5 2689.6,512 2693.9,476.7 2698.3,443.8 2703,410.3 2707.4,381.1 2712.4,352.3 2716.8,324.7 2721.5,301.2 2726.5,277.7 2734.3,249.5 2741.9,229.8 2749.1,211.3 2756.3,196.3 2763.8,180.6 2770.4,169 2777.6,150.9 2782.6,136.8 2785.1,127.4 2788.9,102.3"/><polyline points="2820.3,102.3 2824.1,127.4 2826.6,136.8 2831.6,150.9 2838.8,169 2845.4,180.6 2852.9,196.3 2860.1,211.3 2867.3,229.8 2874.9,249.5 2882.7,277.7 2887.7,301.2 2892.4,324.7 2896.8,352.3 2901.8,381.1 2906.2,410.3 2910.9,443.8 2915.3,476.7 2919.6,512 2924.3,545.5 2928.7,580 2933.4,613 2938.1,644.7 2942.2,676.4 2946.7,705.4 2950.8,734.3 2954.9,763.3 2959.6,789.5 2964.6,814.3 2969,836.9 2973.4,859.8 2977.8,880.5 2982.2,898.4 2987.2,911.3 3001,921.2 3561,921.2"/></g>
<path d="M2602.8 925.6L2613.6 925.6L2608.2 913.4Z" fill="#0b37d3"/><path d="M2616.6 915.7L2627.4 915.7L2622 903.5Z" fill="#0b37d3"/><path d="M2621.6 902.8L2632.4 902.8L2627 890.6Z" fill="#0b37d3"/><path d="M2626 884.9L2636.8 884.9L2631.4 872.7Z" fill="#0b37d3"/><path d="M2630.4 864.2L2641.2 864.2L2635.8 852Z" fill="#0b37d3"/><path d="M2634.8 841.3L2645.6 841.3L2640.2 829.1Z" fill="#0b37d3"/><path d="M2639.2 818.7L2650 818.7L2644.6 806.5Z" fill="#0b37d3"/><path d="M2644.2 793.9L2655 793.9L2649.6 781.7Z" fill="#0b37d3"/><path d="M2648.9 767.7L2659.7 767.7L2654.3 755.5Z" fill="#0b37d3"/><path d="M2653 738.7L2663.8 738.7L2658.4 726.5Z" fill="#0b37d3"/><path d="M2657.1 709.8L2667.9 709.8L2662.5 697.6Z" fill="#0b37d3"/><path d="M2661.6 680.8L2672.4 680.8L2667 668.6Z" fill="#0b37d3"/><path d="M2665.7 649.1L2676.5 649.1L2671.1 636.9Z" fill="#0b37d3"/><path d="M2670.4 617.4L2681.2 617.4L2675.8 605.2Z" fill="#0b37d3"/><path d="M2675.1 584.4L2685.9 584.4L2680.5 572.2Z" fill="#0b37d3"/><path d="M2679.5 549.9L2690.3 549.9L2684.9 537.7Z" fill="#0b37d3"/><path d="M2684.2 516.4L2695 516.4L2689.6 504.2Z" fill="#0b37d3"/><path d="M2688.5 481.1L2699.3 481.1L2693.9 468.9Z" fill="#0b37d3"/><path d="M2692.9 448.2L2703.7 448.2L2698.3 436Z" fill="#0b37d3"/><path d="M2697.6 414.7L2708.4 414.7L2703 402.5Z" fill="#0b37d3"/><path d="M2702 385.5L2712.8 385.5L2707.4 373.3Z" fill="#0b37d3"/><path d="M2707 356.7L2717.8 356.7L2712.4 344.5Z" fill="#0b37d3"/><path d="M2711.4 329.1L2722.2 329.1L2716.8 316.9Z" fill="#0b37d3"/><path d="M2716.1 305.6L2726.9 305.6L2721.5 293.4Z" fill="#0b37d3"/><path d="M2721.1 282.1L2731.9 282.1L2726.5 269.9Z" fill="#0b37d3"/><path d="M2728.9 253.9L2739.7 253.9L2734.3 241.7Z" fill="#0b37d3"/><path d="M2736.5 234.2L2747.3 234.2L2741.9 222Z" fill="#0b37d3"/><path d="M2743.7 215.7L2754.5 215.7L2749.1 203.5Z" fill="#0b37d3"/><path d="M2750.9 200.7L2761.7 200.7L2756.3 188.5Z" fill="#0b37d3"/><path d="M2758.4 185L2769.2 185L2763.8 172.8Z" fill="#0b37d3"/><path d="M2765 173.4L2775.8 173.4L2770.4 161.2Z" fill="#0b37d3"/><path d="M2772.2 155.3L2783 155.3L2777.6 143.1Z" fill="#0b37d3"/><path d="M2777.2 141.2L2788 141.2L2782.6 129Z" fill="#0b37d3"/><path d="M2779.7 131.8L2790.5 131.8L2785.1 119.6Z" fill="#0b37d3"/><path d="M2783.5 106.7L2794.3 106.7L2788.9 94.5Z" fill="#0b37d3"/><path d="M2814.9 106.7L2825.7 106.7L2820.3 94.5Z" fill="#0b37d3"/><path d="M2818.7 131.8L2829.5 131.8L2824.1 119.6Z" fill="#0b37d3"/><path d="M2821.2 141.2L2832 141.2L2826.6 129Z" fill="#0b37d3"/><path d="M2826.2 155.3L2837 155.3L2831.6 143.1Z" fill="#0b37d3"/><path d="M2833.4 173.4L2844.2 173.4L2838.8 161.2Z" fill="#0b37d3"/><path d="M2840 185L2850.8 185L2845.4 172.8Z" fill="#0b37d3"/><path d="M2847.5 200.7L2858.3 200.7L2852.9 188.5Z" fill="#0b37d3"/><path d="M2854.7 215.7L2865.5 215.7L2860.1 203.5Z" fill="#0b37d3"/><path d="M2861.9 234.2L2872.7 234.2L2867.3 222Z" fill="#0b37d3"/><path d="M2869.5 253.9L2880.3 253.9L2874.9 241.7Z" fill="#0b37d3"/><path d="M2877.3 282.1L2888.1 282.1L2882.7 269.9Z" fill="#0b37d3"/><path d="M2882.3 305.6L2893.1 305.6L2887.7 293.4Z" fill="#0b37d3"/><path d="M2887 329.1L2897.8 329.1L2892.4 316.9Z" fill="#0b37d3"/><path d="M2891.4 356.7L2902.2 356.7L2896.8 344.5Z" fill="#0b37d3"/><path d="M2896.4 385.5L2907.2 385.5L2901.8 373.3Z" fill="#0b37d3"/><path d="M2900.8 414.7L2911.6 414.7L2906.2 402.5Z" fill="#0b37d3"/><path d="M2905.5 448.2L2916.3 448.2L2910.9 436Z" fill="#0b37d3"/><path d="M2909.9 481.1L2920.7 481.1L2915.3 468.9Z" fill="#0b37d3"/><path d="M2914.2 516.4L2925 516.4L2919.6 504.2Z" fill="#0b37d3"/><path d="M2918.9 549.9L2929.7 549.9L2924.3 537.7Z" fill="#0b37d3"/><path d="M2923.3 584.4L2934.1 584.4L2928.7 572.2Z" fill="#0b37d3"/><path d="M2928 617.4L2938.8 617.4L2933.4 605.2Z" fill="#0b37d3"/><path d="M2932.7 649.1L2943.5 649.1L2938.1 636.9Z" fill="#0b37d3"/><path d="M2936.8 680.8L2947.6 680.8L2942.2 668.6Z" fill="#0b37d3"/><path d="M2941.3 709.8L2952.1 709.8L2946.7 697.6Z" fill="#0b37d3"/><path d="M2945.4 738.7L2956.2 738.7L2950.8 726.5Z" fill="#0b37d3"/><path d="M2949.5 767.7L2960.3 767.7L2954.9 755.5Z" fill="#0b37d3"/><path d="M2954.2 793.9L2965 793.9L2959.6 781.7Z" fill="#0b37d3"/><path d="M2959.2 818.7L2970 818.7L2964.6 806.5Z" fill="#0b37d3"/><path d="M2963.6 841.3L2974.4 841.3L2969 829.1Z" fill="#0b37d3"/><path d="M2968 864.2L2978.8 864.2L2973.4 852Z" fill="#0b37d3"/><path d="M2972.4 884.9L2983.2 884.9L2977.8 872.7Z" fill="#0b37d3"/><path d="M2976.8 902.8L2987.6 902.8L2982.2 890.6Z" fill="#0b37d3"/><path d="M2981.8 915.7L2992.6 915.7L2987.2 903.5Z" fill="#0b37d3"/><path d="M2995.6 925.6L3006.4 925.6L3001 913.4Z" fill="#0b37d3"/><path d="M2308.4 925.6L2319.2 925.6L2313.8 913.4Z" fill="#0b37d3"/><path d="M2440.7 925.6L2451.5 925.6L2446.1 913.4Z" fill="#0b37d3"/><path d="M3158.9 925.6L3169.7 925.6L3164.3 913.4Z" fill="#0b37d3"/><path d="M3291.2 925.6L3302 925.6L3296.6 913.4Z" fill="#0b37d3"/><path d="M3461.3 925.6L3472.1 925.6L3466.7 913.4Z" fill="#0b37d3"/>
<path d="M3541 921.2H3559" stroke="#0a1050" stroke-width="5"/>
<rect x="2143.7" y="30.3" width="1417.3" height="980.3" fill="none" stroke="#0b0c0b" stroke-width="4.8"/>
<path d="M2332.7 1010.6V986.7M2521.7 1010.6V986.7M2710.7 1010.6V986.7M2899.7 1010.6V986.7M3088.7 1010.6V986.7M3277.7 1010.6V986.7M3466.7 1010.6V986.7M2143.7 921.2H2167.6M2143.7 742.9H2167.6M2143.7 564.6H2167.6M2143.7 386.3H2167.6M2143.7 208H2167.6" stroke="#0b0c0b" stroke-width="4.6" fill="none"/>
<text x="2143.7" y="1082" text-anchor="middle">0</text>
<text x="2334.9" y="1082" text-anchor="middle">100</text>
<text x="2521.7" y="1082" text-anchor="middle">200</text>
<text x="2710.7" y="1082" text-anchor="middle">300</text>
<text x="2899.7" y="1082" text-anchor="middle">400</text>
<text x="3088.7" y="1082" text-anchor="middle">500</text>
<text x="3277.7" y="1082" text-anchor="middle">600</text>
<text x="3466.7" y="1082" text-anchor="middle">700</text>
<text x="2119.8" y="943" text-anchor="end">0</text>
<text x="2119.8" y="765.7" text-anchor="end">5</text>
<text x="2119.8" y="588.4" text-anchor="end">10</text>
<text x="2119.8" y="411.1" text-anchor="end">15</text>
<text x="2119.8" y="233.8" text-anchor="end">20</text>
<text x="2119.8" y="56.5" text-anchor="end">25</text>
<line x1="3051.2" y1="106.1" x2="3185.5" y2="106.1" stroke="#0c0c0c" stroke-width="4.6"/>
<rect x="3113.9" y="101.8" width="8.6" height="8.6" fill="#0c0c0c"/>
<text x="3215" y="120.7" text-anchor="start" word-spacing="3"><tspan font-style="italic">x</tspan>=50 mm</text>
<line x1="3051.2" y1="189.6" x2="3185.5" y2="189.6" stroke="#fb1517" stroke-width="5.0"/>
<circle cx="3118.2" cy="189.6" r="4.8" fill="#fb1517"/>
<text x="3215" y="204.8" text-anchor="start" word-spacing="3"><tspan font-style="italic">x</tspan>=75 mm</text>
<line x1="3051.2" y1="273.8" x2="3185.5" y2="273.8" stroke="#0b37d3" stroke-width="3.6"/>
<path d="M3113.7 277.6L3122.7 277.6L3118.2 267Z" fill="#0b37d3"/>
<text x="3215" y="289.1" text-anchor="start" word-spacing="3"><tspan font-style="italic">x</tspan>=100 mm</text>
<text x="2854" y="1173.9" text-anchor="middle">Distance/mm</text>
<text x="2854" y="1269.9" text-anchor="middle">(b) Exit wall</text>
<text transform="translate(2010.7 520.4) rotate(-90)" text-anchor="middle">Deformation/mm</text>
</g>
<g id="pc">
<defs><filter id="bl" x="-5%" y="-5%" width="110%" height="110%"><feGaussianBlur stdDeviation="1.1"/></filter></defs>
<g filter="url(#bl)">
<polyline points="1284.6,1922.3 1755.1,1922.6 1766.1,1931 1777.2,1942 1788.2,1953.1 1799.2,1962.7 1813,1975.1 1826.8,1986.1 1840.6,1994.4 1854.4,2004.1 1868.1,2015.1 1881.9,2027.5 1895.7,2042.7 1909.5,2057.8 1923.3,2075.7 1934.3,2095 1944,2113" stroke="#141418" stroke-width="5.2" fill="none" stroke-linejoin="round"/>
<polyline points="1995.8,2111.6 2005.5,2093.7 2015.1,2077.1 2027.5,2060.6 2041.3,2045.4 2055.1,2030.3 2068.9,2016.5 2082.7,2005.4 2096.4,1995.8 2110.2,1987.5 2124,1976.5 2137.8,1964.1 2151.6,1951.7 2159.9,1940.7 2164,1929.6 2170.9,1924.1 2181.9,1922.5 2701.4,1922.3" stroke="#141418" stroke-width="5.2" fill="none" stroke-linejoin="round"/>
<polyline points="1284.6,2202 1716,2202 1720.6,2198.4 1735.8,2183.3 1749.6,2169.5 1763.4,2155.7 1777.2,2143.3 1790.9,2135 1804.7,2129.5 1818.5,2126.2 1832.3,2124.8 1846.1,2124.8 1859.9,2126.2 1873.6,2130.1 1887.4,2136.4 1901.2,2147.4 1912.2,2161.2 1921.9,2179.1 1928.8,2197 1934.3,2216.3 1938.4,2235.6 1941.2,2257.7 1943.1,2285.3" stroke="#141418" stroke-width="5.2" fill="none" stroke-linejoin="round"/>
<polyline points="1995.8,2285.3 1998.6,2257.7 2001.3,2235.6 2005.5,2216.3 2011,2197 2017.9,2179.1 2027.5,2161.2 2038.6,2147.4 2052.3,2136.4 2066.1,2129.5 2079.9,2125.4 2093.7,2124 2107.5,2124.5 2121.3,2126.7 2135,2130.9 2148.8,2137.8 2162.6,2147.4 2176.4,2158.4 2190.2,2170.9 2204,2183.3 2217.8,2197 2222.5,2202 2701.4,2202" stroke="#141418" stroke-width="5.2" fill="none" stroke-linejoin="round"/>
<polyline points="1284.6,1922.3 1672,1922.6 1683.4,1926.9 1700,1933.8 1713.7,1946.2 1730.3,1961.3 1744.1,1973.7 1757.9,1986.1 1771.6,1998.6 1785.4,2008.2 1799.2,2016.5 1813,2024.7 1826.8,2033 1840.6,2041.3 1854.4,2048.2 1868.1,2056.4 1881.9,2064.7 1895.7,2071.6 1909.5,2078.5 1920.5,2085.4 1928.8,2095 1937.1,2111.6 1942.6,2128.1 1945.3,2144.7 1946.2,2154.3" stroke="#f3142f" stroke-width="5.2" fill="none" stroke-linejoin="round"/>
<polyline points="1992.2,2154.3 1994.4,2136.4 1999.9,2117.1 2008.2,2099.2 2017.9,2086.8 2030.3,2078.5 2044.1,2071.6 2057.9,2064.2 2071.6,2056.4 2085.4,2046.8 2099.2,2039.4 2113,2031.6 2126.8,2024.7 2140.6,2017.9 2154.4,2009.6 2168.1,1998.6 2181.9,1987.5 2195.7,1973.7 2209.5,1960 2223.3,1946.2 2237.1,1933.8 2248.1,1926.9 2259.1,1923.3 2270,1922.3 2701.4,1922.3" stroke="#f3142f" stroke-width="5.2" fill="none" stroke-linejoin="round"/>
<polyline points="1284.6,2202 1730,2202 1738.5,2199.8 1752.3,2192.9 1766.1,2183.3 1779.9,2173.6 1793.7,2164 1807.5,2155.7 1821.3,2149.6 1835,2147.4 1848.8,2147.4 1862.6,2149.6 1876.4,2154.3 1890.2,2161.2 1904,2172.2 1915,2184.6 1923.3,2197 1930.2,2213.6 1935.7,2232.9 1939.3,2252.2 1941.7,2271.5 1943.1,2286.6" stroke="#f3142f" stroke-width="5.2" fill="none" stroke-linejoin="round"/>
<polyline points="1995.8,2286.6 1998,2271.5 2000.5,2252.2 2004.1,2232.9 2009.6,2213.6 2016.5,2197 2024.8,2184.6 2035.8,2172.2 2049.6,2161.2 2063.4,2154.3 2077.2,2150.2 2090.9,2148.8 2104.7,2149.6 2118.5,2152.9 2132.3,2159.8 2146.1,2168.1 2159.9,2177.8 2173.6,2187.4 2187.4,2195.7 2198.5,2200.4 2209.5,2202 2701.4,2202" stroke="#f3142f" stroke-width="5.2" fill="none" stroke-linejoin="round"/>
<polyline points="1284.6,1922.3 1692,1922.6 1702.7,1925.5 1716.5,1932.4 1730.3,1944.8 1744.1,1958.6 1757.9,1975.1 1771.6,1994.4 1785.4,2012.3 1799.2,2030.3 1813,2046.8 1826.8,2057.8 1840.6,2060.6 1854.4,2057.8 1868.1,2049.5 1881.9,2035.8 1895.7,2020.6 1909.5,2006.8 1917.8,1997.2 1921.3,1991.7" stroke="#1b3ce2" stroke-width="5.2" fill="none" stroke-linejoin="round"/>
<polyline points="2017.9,1991.7 2024.8,2002.7 2038.6,2017.9 2052.3,2031.6 2066.1,2044 2079.9,2053.7 2093.7,2059.2 2107.5,2058.7 2121.3,2052.3 2135,2039.9 2148.8,2020.6 2159.9,2005.4 2170.9,1988.9 2181.9,1972.4 2195.7,1954.4 2209.5,1940.7 2223.3,1931 2234.3,1925.5 2242.6,1923.3 2252,1922.3 2701.4,1922.3" stroke="#1b3ce2" stroke-width="5.2" fill="none" stroke-linejoin="round"/>
<polyline points="1284.6,2202 1668,2202 1679.3,2203.9 1691.7,2208.1 1708.2,2210.8 1730.3,2211.7 1749.6,2210.3 1763.4,2206.7 1777.2,2199.8 1790.9,2190.2 1804.7,2177.8 1818.5,2164 1832.3,2151.6 1846.1,2140.5 1859.9,2130.9 1873.6,2119.9 1887.4,2107.4 1898.5,2097.8 1906.7,2092.3 1915,2090.9 1921.9,2093.7" stroke="#1b3ce2" stroke-width="5.2" fill="none" stroke-linejoin="round"/>
<polyline points="2016.5,2093.7 2024.8,2090.9 2033,2093.7 2044.1,2101.9 2057.9,2114.4 2071.6,2126.8 2085.4,2137.8 2099.2,2148.8 2113,2159.8 2126.8,2172.2 2140.6,2184.6 2154.4,2197 2165.4,2205.3 2176.4,2209.5 2190.2,2211.7 2212.3,2211.7 2234.3,2210.3 2250.9,2206.7 2267.4,2203.1 2283.9,2202 2701.4,2202" stroke="#1b3ce2" stroke-width="5.2" fill="none" stroke-linejoin="round"/>
<path d="M1284.6 1922.6H1690 M2250 1922.6H2702" stroke="#5f7cec" stroke-width="8.4" fill="none"/>
<path d="M1284.6 2206.2H1665 M2290 2206.2H2702" stroke="#dcdff9" stroke-width="4" fill="none"/>
<path d="M1284.6 2202H1665 M2290 2202H2702" stroke="#1232df" stroke-width="4.8" fill="none"/>
</g>
<g filter="url(#bl)"><rect x="1380" y="1915.8" width="4.4" height="13.5" fill="#f040c0" opacity="0.42"/><rect x="1419.1" y="1915.8" width="4.4" height="13.5" fill="#606870" opacity="0.42"/><rect x="1458.2" y="1915.8" width="4.4" height="13.5" fill="#2840e0" opacity="0.42"/><rect x="1555.8" y="1915.8" width="4.4" height="13.5" fill="#606870" opacity="0.42"/><rect x="1575.3" y="1915.8" width="4.4" height="13.5" fill="#f040c0" opacity="0.42"/><rect x="1594.9" y="1915.8" width="4.4" height="13.5" fill="#2840e0" opacity="0.42"/><rect x="2339" y="1915.8" width="4.4" height="13.5" fill="#2840e0" opacity="0.42"/><rect x="2358.5" y="1915.8" width="4.4" height="13.5" fill="#f040c0" opacity="0.42"/><rect x="2378" y="1915.8" width="4.4" height="13.5" fill="#606870" opacity="0.42"/><rect x="2475.7" y="1915.8" width="4.4" height="13.5" fill="#2840e0" opacity="0.42"/><rect x="2514.7" y="1915.8" width="4.4" height="13.5" fill="#606870" opacity="0.42"/><rect x="2553.8" y="1915.8" width="4.4" height="13.5" fill="#f040c0" opacity="0.42"/><rect x="2651.5" y="1915.8" width="4.4" height="13.5" fill="#2840e0" opacity="0.42"/><rect x="1380" y="2195.2" width="4.4" height="13.5" fill="#f040c0" opacity="0.38"/><rect x="1419.1" y="2195.2" width="4.4" height="13.5" fill="#606870" opacity="0.38"/><rect x="1458.2" y="2195.2" width="4.4" height="13.5" fill="#2840e0" opacity="0.38"/><rect x="1555.8" y="2195.2" width="4.4" height="13.5" fill="#606870" opacity="0.38"/><rect x="1575.3" y="2195.2" width="4.4" height="13.5" fill="#f040c0" opacity="0.38"/><rect x="1594.9" y="2195.2" width="4.4" height="13.5" fill="#2840e0" opacity="0.38"/><rect x="2339" y="2195.2" width="4.4" height="13.5" fill="#2840e0" opacity="0.38"/><rect x="2358.5" y="2195.2" width="4.4" height="13.5" fill="#f040c0" opacity="0.38"/><rect x="2378" y="2195.2" width="4.4" height="13.5" fill="#606870" opacity="0.38"/><rect x="2475.7" y="2195.2" width="4.4" height="13.5" fill="#2840e0" opacity="0.38"/><rect x="2514.7" y="2195.2" width="4.4" height="13.5" fill="#606870" opacity="0.38"/><rect x="2553.8" y="2195.2" width="4.4" height="13.5" fill="#f040c0" opacity="0.38"/><rect x="2651.5" y="2195.2" width="4.4" height="13.5" fill="#2840e0" opacity="0.38"/><rect x="1630" y="1915.8" width="4.4" height="13.5" fill="#606870" opacity="0.36"/><rect x="1630" y="2195.2" width="4.4" height="13.5" fill="#606870" opacity="0.32"/><rect x="1639.8" y="1915.8" width="4.4" height="13.5" fill="#2840e0" opacity="0.36"/><rect x="1639.8" y="2195.2" width="4.4" height="13.5" fill="#606870" opacity="0.32"/><rect x="1649.6" y="1915.8" width="4.4" height="13.5" fill="#2840e0" opacity="0.36"/><rect x="1649.6" y="2195.2" width="4.4" height="13.5" fill="#2840e0" opacity="0.32"/><rect x="1659.3" y="1915.8" width="4.4" height="13.5" fill="#606870" opacity="0.36"/><rect x="1659.3" y="2195.2" width="4.4" height="13.5" fill="#606870" opacity="0.32"/><rect x="1669.1" y="1915.8" width="4.4" height="13.5" fill="#2840e0" opacity="0.36"/><rect x="1669.1" y="2195.2" width="4.4" height="13.5" fill="#606870" opacity="0.32"/><rect x="1678.9" y="1915.8" width="4.4" height="13.5" fill="#2840e0" opacity="0.36"/><rect x="1678.9" y="2195.2" width="4.4" height="13.5" fill="#2840e0" opacity="0.32"/><rect x="1688.6" y="1915.8" width="4.4" height="13.5" fill="#606870" opacity="0.36"/><rect x="1688.6" y="2195.2" width="4.4" height="13.5" fill="#606870" opacity="0.32"/><rect x="1698.4" y="1915.8" width="4.4" height="13.5" fill="#2840e0" opacity="0.36"/><rect x="1698.4" y="2195.2" width="4.4" height="13.5" fill="#606870" opacity="0.32"/><rect x="1708.2" y="1915.8" width="4.4" height="13.5" fill="#2840e0" opacity="0.36"/><rect x="1708.2" y="2195.2" width="4.4" height="13.5" fill="#2840e0" opacity="0.32"/><rect x="1717.9" y="1915.8" width="4.4" height="13.5" fill="#606870" opacity="0.36"/><rect x="1717.9" y="2195.2" width="4.4" height="13.5" fill="#606870" opacity="0.32"/><rect x="2212" y="1915.8" width="4.4" height="13.5" fill="#606870" opacity="0.36"/><rect x="2212" y="2195.2" width="4.4" height="13.5" fill="#606870" opacity="0.32"/><rect x="2221.8" y="1915.8" width="4.4" height="13.5" fill="#2840e0" opacity="0.36"/><rect x="2221.8" y="2195.2" width="4.4" height="13.5" fill="#606870" opacity="0.32"/><rect x="2231.6" y="1915.8" width="4.4" height="13.5" fill="#2840e0" opacity="0.36"/><rect x="2231.6" y="2195.2" width="4.4" height="13.5" fill="#2840e0" opacity="0.32"/><rect x="2241.3" y="1915.8" width="4.4" height="13.5" fill="#606870" opacity="0.36"/><rect x="2241.3" y="2195.2" width="4.4" height="13.5" fill="#606870" opacity="0.32"/><rect x="2251.1" y="1915.8" width="4.4" height="13.5" fill="#2840e0" opacity="0.36"/><rect x="2251.1" y="2195.2" width="4.4" height="13.5" fill="#606870" opacity="0.32"/><rect x="2260.9" y="1915.8" width="4.4" height="13.5" fill="#2840e0" opacity="0.36"/><rect x="2260.9" y="2195.2" width="4.4" height="13.5" fill="#2840e0" opacity="0.32"/><rect x="2270.6" y="1915.8" width="4.4" height="13.5" fill="#606870" opacity="0.36"/><rect x="2270.6" y="2195.2" width="4.4" height="13.5" fill="#606870" opacity="0.32"/><rect x="2280.4" y="1915.8" width="4.4" height="13.5" fill="#2840e0" opacity="0.36"/><rect x="2280.4" y="2195.2" width="4.4" height="13.5" fill="#606870" opacity="0.32"/><rect x="2290.1" y="1915.8" width="4.4" height="13.5" fill="#2840e0" opacity="0.36"/><rect x="2290.1" y="2195.2" width="4.4" height="13.5" fill="#2840e0" opacity="0.32"/><rect x="2299.9" y="1915.8" width="4.4" height="13.5" fill="#606870" opacity="0.36"/><rect x="2299.9" y="2195.2" width="4.4" height="13.5" fill="#606870" opacity="0.32"/><rect x="1716" y="1918.1" width="4.4" height="9" fill="#303036" opacity="0.55"/><rect x="1723.8" y="1918.1" width="4.4" height="9" fill="#303036" opacity="0.55"/><rect x="1731.6" y="1918.1" width="4.4" height="9" fill="#303036" opacity="0.55"/><rect x="1739.4" y="1918.1" width="4.4" height="9" fill="#303036" opacity="0.55"/><rect x="1747.2" y="1918.1" width="4.4" height="9" fill="#303036" opacity="0.55"/><rect x="2174.9" y="1918.1" width="4.4" height="9" fill="#303036" opacity="0.55"/><rect x="2182.7" y="1918.1" width="4.4" height="9" fill="#303036" opacity="0.55"/><rect x="2190.5" y="1918.1" width="4.4" height="9" fill="#303036" opacity="0.55"/><rect x="2198.4" y="1918.1" width="4.4" height="9" fill="#303036" opacity="0.55"/><rect x="2206.2" y="1918.1" width="4.4" height="9" fill="#303036" opacity="0.55"/></g>
<rect x="2527" y="1898" width="16" height="4" fill="#d9dcd8"/>
<path d="M2682 1922.6H2700 M2682 2202H2700" stroke="#1428c8" stroke-width="6" fill="none"/>
<rect x="1284.6" y="1361.4" width="1417.4" height="980.4" fill="none" stroke="#0b0c0b" stroke-width="4.8"/>
<path d="M1479.9 2341.8V2317.9M1675.2 2341.8V2317.9M1870.5 2341.8V2317.9M2065.8 2341.8V2317.9M2261.1 2341.8V2317.9M2456.4 2341.8V2317.9M2651.7 2341.8V2317.9M1284.6 1502H1308.5M1284.6 1642H1308.5M1284.6 1782H1308.5M1284.6 1922H1308.5M1284.6 2062H1308.5M1284.6 2202H1308.5" stroke="#0b0c0b" stroke-width="4.6" fill="none"/>
<text x="1284.6" y="2409.3" text-anchor="middle">0</text>
<text x="1480.2" y="2409.3" text-anchor="middle">100</text>
<text x="1675.2" y="2409.3" text-anchor="middle">200</text>
<text x="1870.5" y="2409.3" text-anchor="middle">300</text>
<text x="2065.8" y="2409.3" text-anchor="middle">400</text>
<text x="2261.1" y="2409.3" text-anchor="middle">500</text>
<text x="2456.4" y="2409.3" text-anchor="middle">600</text>
<text x="2651.7" y="2409.3" text-anchor="middle">700</text>
<text x="1260.3" y="1382.4" text-anchor="end">50</text>
<text x="1260.3" y="1522.4" text-anchor="end">40</text>
<text x="1260.3" y="1662.4" text-anchor="end">30</text>
<text x="1260.3" y="1802.4" text-anchor="end">20</text>
<text x="1260.3" y="1942.4" text-anchor="end">10</text>
<text x="1260.3" y="2082.4" text-anchor="end">0</text>
<text x="1260.3" y="2222.4" text-anchor="end">10</text>
<text x="1260.3" y="2362.4" text-anchor="end">−20</text>
<g filter="url(#bl)">
<line x1="1973.2" y1="1433.8" x2="2089.9" y2="1433.8" stroke="#808387" stroke-width="8.0"/>
<rect x="2028" y="1429.8" width="7" height="8" fill="#2a2a30"/>
<line x1="1973.2" y1="1519.4" x2="2089.9" y2="1519.4" stroke="#4b4c55" stroke-width="6.0"/>
<rect x="2028" y="1516.4" width="7" height="6" fill="#15151c"/>
<line x1="1973.2" y1="1604.8" x2="2089.9" y2="1604.8" stroke="#f4567c" stroke-width="8.0"/>
<rect x="2028" y="1600.8" width="7" height="8" fill="#e81e3c"/>
<line x1="1973.2" y1="1690.2" x2="2089.9" y2="1690.2" stroke="#f23c5e" stroke-width="6.0"/>
<rect x="2028" y="1687.2" width="7" height="6" fill="#e81e3c"/>
<line x1="1973.2" y1="1776.5" x2="2089.9" y2="1776.5" stroke="#4163e6" stroke-width="7.0"/>
<rect x="2028" y="1773" width="7" height="7" fill="#1a38d8"/>
<line x1="1973.2" y1="1861.5" x2="2089.9" y2="1861.5" stroke="#2b4ce2" stroke-width="5.5"/>
<rect x="2028" y="1858.8" width="7" height="5.5" fill="#1a38d8"/>
</g>
<text x="2110.5" y="1451" text-anchor="start"><tspan font-style="italic">x</tspan>=50 mm, Plate 1</text>
<text x="2110.5" y="1537" text-anchor="start"><tspan font-style="italic">x</tspan>=50 mm, Plate 2</text>
<text x="2110.5" y="1622.7" text-anchor="start"><tspan font-style="italic">x</tspan>=75 mm, Plate 1</text>
<text x="2110.5" y="1708.4" text-anchor="start"><tspan font-style="italic">x</tspan>=75 mm, Plate 2</text>
<text x="2110.5" y="1793.8" text-anchor="start"><tspan font-style="italic">x</tspan>=100 mm, Plate 1</text>
<text x="2110.5" y="1879.1" text-anchor="start"><tspan font-style="italic">x</tspan>=100 mm, Plate 2</text>
<text x="1993" y="2502" text-anchor="middle">Distance/mm</text>
<text x="1992.6" y="2597.3" text-anchor="middle">(c) Double-layer plates</text>
<text transform="translate(1102 1849.7) rotate(-90)" text-anchor="middle">Deformation/mm</text>
</g>
</svg></body></html>
